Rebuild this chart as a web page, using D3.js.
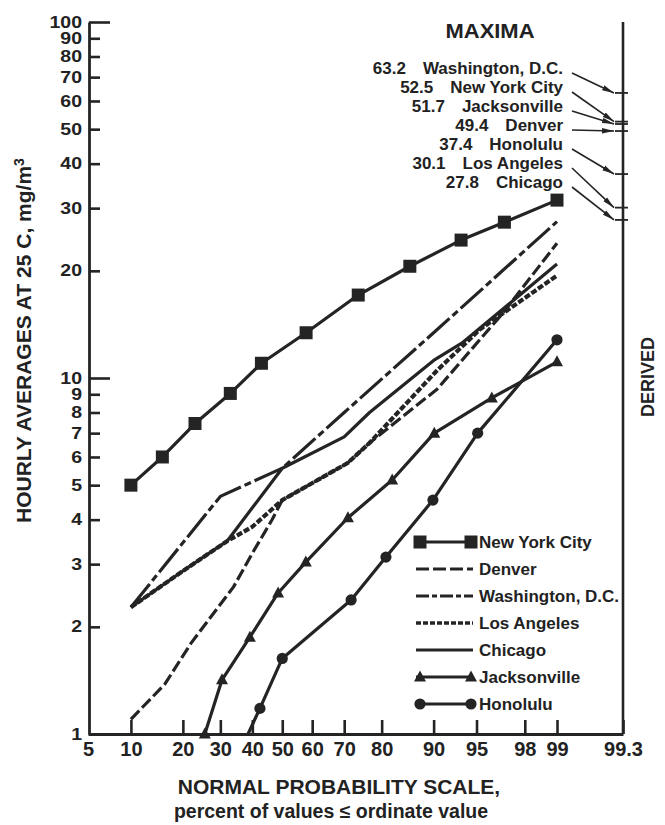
<!DOCTYPE html>
<html><head><meta charset="utf-8">
<script src="https://cdn.jsdelivr.net/npm/d3@7"></script>
<style>
body{margin:0;background:#fff}
svg{display:block}
text{font-family:"Liberation Sans",Arial,Helvetica,sans-serif;fill:#222;font-weight:bold}
</style>
</head><body>
<svg id="chart" width="665" height="825"></svg>
<script>
// ---------- data ----------
const yTickValues = [1,2,3,4,5,6,7,8,9,10,20,30,40,50,60,70,80,90,100];
const yMajorTicks = [1,10,100];
const xTickValues = [5,10,20,30,40,50,60,70,80,90,95,98,99,99.3];
const derivedPct = 99.3;

const nycPct = [10, 15.5, 23, 33, 43, 58, 74, 86, 93.5, 97, 99];
const nycVal = [5.0, 6.0, 7.45, 9.05, 11.0, 13.4, 17.1, 20.6, 24.4, 27.4, 31.6];

const denverPct = [10, 16, 22, 34, 40, 46.5, 50, 71, 77, 90.5, 96.9, 99];
const denverVal = [1.1, 1.38, 1.8, 2.59, 3.22, 3.99, 4.54, 5.77, 6.57, 9.3, 15.2, 23.9];

const washPct = [10, 30, 50, 70, 90, 95, 99];
const washVal = [2.27, 4.65, 5.58, 8.0, 13.4, 17.2, 27.5];

const laPct = [10, 20, 32, 40, 50, 71, 77, 90.5, 95.3, 99];
const laVal = [2.27, 2.87, 3.48, 3.82, 4.54, 5.77, 6.57, 10.5, 13.7, 19.4];

const chicagoPct = [10, 20, 32, 50, 70, 77, 90, 93.7, 99];
const chicagoVal = [2.27, 2.87, 3.48, 5.58, 6.83, 8.0, 11.2, 12.6, 20.9];

const jacksonPct = [25.6, 30.5, 39.2, 48.6, 57.9, 71.1, 82.4, 90.1, 96.2, 99];
const jacksonVal = [1.0, 1.42, 1.87, 2.49, 3.04, 4.05, 5.17, 7.0, 8.79, 11.1];

const honoluluPct = [38.6, 42.5, 50, 72, 81, 89.9, 95.1, 99];
const honoluluVal = [1.0, 1.18, 1.63, 2.38, 3.14, 4.54, 7.0, 12.8];

const legendNames = ["New York City","Denver","Washington, D.C.","Los Angeles","Chicago","Jacksonville","Honolulu"];

const maximaNames = ["Washington, D.C.","New York City","Jacksonville","Denver","Honolulu","Los Angeles","Chicago"];
const maximaValues = [63.2, 52.5, 51.7, 49.4, 37.4, 30.1, 27.8];

// ---------- helpers ----------
function probit(p){
  const a=[-3.969683028665376e+01,2.209460984245205e+02,-2.759285104469687e+02,1.383577518672690e+02,-3.066479806614716e+01,2.506628277459239e+00];
  const b=[-5.447609879822406e+01,1.615858368580409e+02,-1.556989798598866e+02,6.680131188771972e+01,-1.328068155288572e+01];
  const c=[-7.784894002430293e-03,-3.223964580411365e-01,-2.400758277161838e+00,-2.549671669062281e+00,4.374664141464968e+00,2.938163982698783e+00];
  const d=[7.784695709041462e-03,3.224671290700398e-01,2.445134137142996e+00,3.754408661907416e+00];
  const pl=0.02425, ph=1-pl; let q,r;
  if(p<pl){q=Math.sqrt(-2*Math.log(p));return (((((c[0]*q+c[1])*q+c[2])*q+c[3])*q+c[4])*q+c[5])/((((d[0]*q+d[1])*q+d[2])*q+d[3])*q+1);}
  if(p>ph){q=Math.sqrt(-2*Math.log(1-p));return -(((((c[0]*q+c[1])*q+c[2])*q+c[3])*q+c[4])*q+c[5])/((((d[0]*q+d[1])*q+d[2])*q+d[3])*q+1);}
  q=p-0.5;r=q*q;return (((((a[0]*r+a[1])*r+a[2])*r+a[3])*r+a[4])*r+a[5])*q/(((((b[0]*r+b[1])*r+b[2])*r+b[3])*r+b[4])*r+1);
}
const zip = (ps, vs) => ps.map((p,i)=>[p, vs[i]]);

// ---------- scales ----------
const zScale = d3.scaleLinear()
  .domain([probit(0.05), probit(0.99), probit(derivedPct/100)])
  .range([88, 557, 623]);
const x = p => zScale(probit(p/100));
const y = d3.scaleLog().domain([1,100]).range([734, 22]);

const INK = "#242424";
const svg = d3.select("#chart");

const defs = svg.append("defs");
defs.append("marker").attr("id","arrow").attr("viewBox","0 0 12 6")
  .attr("refX",12).attr("refY",3).attr("markerWidth",12).attr("markerHeight",6)
  .attr("markerUnits","userSpaceOnUse").attr("orient","auto")
  .append("path").attr("d","M0,0.3L12,3L0,5.7Z").attr("fill",INK);

// ---------- axes ----------
const yAxis = d3.axisLeft(y).tickValues(yTickValues).tickFormat(d3.format("d"))
  .tickSizeInner(-11).tickSizeOuter(0).tickPadding(7);
const gy = svg.append("g").attr("transform","translate(89,0)").call(yAxis);
gy.selectAll(".tick line").attr("x2", d => yMajorTicks.includes(d) ? 21 : 11);
gy.select(".tick:first-of-type line").remove();

const xAxis = d3.axisBottom(zScale)
  .tickValues(xTickValues.map(p=>probit(p/100)))
  .tickFormat((d,i)=>String(xTickValues[i]))
  .tickSizeInner(-14).tickSizeOuter(0).tickPadding(8);
const gx = svg.append("g").attr("transform","translate(0,734)").call(xAxis);
gx.select(".tick:first-of-type line").remove();

[gx, gy].forEach(g=>{
  g.select(".domain").attr("stroke",INK).attr("stroke-width",2.8);
  g.selectAll(".tick line").attr("stroke",INK).attr("stroke-width",2.6);
  g.selectAll(".tick text").attr("fill","#222")
    .style("font-family",'"Liberation Sans",Arial,sans-serif').style("font-weight","bold");
});
gx.selectAll(".tick text").style("font-size","20px").attr("dy","0.72em");
gy.selectAll(".tick text").style("font-size","16px")
  .attr("transform","scale(1.22,1)").attr("x", -7/1.22);

// derived (maxima) vertical line
const xd = x(derivedPct);
svg.append("line").attr("x1",xd).attr("x2",xd).attr("y1",y(100)).attr("y2",y(1))
  .attr("stroke",INK).attr("stroke-width",2.6);

// ---------- series ----------
const series = [
  {name:"New York City", data:zip(nycPct,nycVal), dash:null, w:3.2, marker:"square"},
  {name:"Denver", data:zip(denverPct,denverVal), dash:"12,4", w:3.2, marker:null},
  {name:"Washington, D.C.", data:zip(washPct,washVal), dash:"30,4,7,4", w:3.2, marker:null},
  {name:"Los Angeles", data:zip(laPct,laVal), dash:"6,2", w:4.2, marker:null},
  {name:"Chicago", data:zip(chicagoPct,chicagoVal), dash:null, w:3.2, marker:null},
  {name:"Jacksonville", data:zip(jacksonPct,jacksonVal), dash:null, w:3.2, marker:"triangle"},
  {name:"Honolulu", data:zip(honoluluPct,honoluluVal), dash:null, w:3.2, marker:"circle", skipFirst:true}
];

const line = d3.line().x(d=>x(d[0])).y(d=>y(d[1]));
const gLines = svg.append("g");
series.forEach(s=>{
  gLines.append("path").attr("d",line(s.data)).attr("fill","none")
    .attr("stroke",INK).attr("stroke-width",s.w)
    .attr("stroke-linejoin","round")
    .attr("stroke-dasharray",s.dash);
});

function drawMarker(g, type, cx, cy){
  if(type==="square"){
    g.append("rect").attr("x",cx-6.5).attr("y",cy-6.5).attr("width",13).attr("height",13).attr("fill",INK);
  } else if(type==="triangle"){
    g.append("path").attr("d",`M${cx},${cy-6.5}L${cx+6},${cy+4.5}L${cx-6},${cy+4.5}Z`).attr("fill",INK);
  } else if(type==="circle"){
    g.append("circle").attr("cx",cx).attr("cy",cy).attr("r",5.6).attr("fill",INK);
  }
}
const gMarks = svg.append("g");
series.forEach(s=>{
  if(!s.marker) return;
  s.data.forEach((d,i)=>{
    if(s.skipFirst && i===0) return;
    drawMarker(gMarks, s.marker, x(d[0]), y(d[1]));
  });
});

// ---------- legend ----------
const legX1 = 420, legX2 = 471, legText = 479, legY0 = 542, legStep = 27;
const legendDash = {"New York City":null,"Denver":"13,4","Washington, D.C.":"13,3,5,3","Los Angeles":"5,2","Chicago":null,"Jacksonville":null,"Honolulu":null};
legendNames.forEach((nm,i)=>{
  const s = series.find(t=>t.name===nm);
  const ly = legY0 + i*legStep;
  svg.append("line").attr("x1",legX1-4).attr("x2",legX2+2).attr("y1",ly).attr("y2",ly)
    .attr("stroke",INK).attr("stroke-width",nm==="Los Angeles"?3.4:3)
    .attr("stroke-dasharray",legendDash[nm]);
  if(s.marker){ drawMarker(svg, s.marker, legX1, ly); drawMarker(svg, s.marker, legX2, ly); }
  svg.append("text").attr("x",legText).attr("y",ly+6).style("font-size","17px").text(nm);
});

// ---------- maxima ----------
svg.append("text").attr("x",490).attr("y",38).attr("text-anchor","middle")
  .style("font-size","20px").attr("textLength",89).attr("lengthAdjust","spacingAndGlyphs").text("MAXIMA");
const maxRight = 563, maxY0 = 74, maxStep = 19;
maximaNames.forEach((nm,i)=>{
  const by = maxY0 + i*maxStep;
  const t = svg.append("text").attr("x",maxRight).attr("y",by).attr("text-anchor","end")
    .style("font-size","17px").text(nm);
  const w = t.node().getComputedTextLength();
  svg.append("text").attr("x",maxRight - w - 17).attr("y",by).attr("text-anchor","end")
    .style("font-size","17px").text(maximaValues[i].toFixed(1));
  const ty = y(maximaValues[i]);
  svg.append("line").attr("x1",maxRight+9).attr("y1",by-1).attr("x2",xd-9).attr("y2",ty)
    .attr("stroke",INK).attr("stroke-width",1.6).attr("marker-end","url(#arrow)");
  svg.append("line").attr("x1",xd-8).attr("x2",xd+5).attr("y1",ty).attr("y2",ty)
    .attr("stroke",INK).attr("stroke-width",1.8);
});

// ---------- titles ----------
const yt = svg.append("text").attr("transform","translate(31,523) rotate(-90)")
  .style("font-size","21px").attr("text-anchor","start");
yt.append("tspan").text("HOURLY AVERAGES AT 25 C, mg/m");
yt.append("tspan").attr("dy","-0.5em").style("font-size","14px").text("3");

svg.append("text").attr("transform","translate(654,377) rotate(-90)")
  .attr("text-anchor","middle").style("font-size","18px").text("DERIVED");

svg.append("text").attr("x",339).attr("y",794).attr("text-anchor","middle")
  .style("font-size","21px").text("NORMAL PROBABILITY SCALE,");
svg.append("text").attr("x",331).attr("y",818).attr("text-anchor","middle")
  .style("font-size","19.5px").text("percent of values \u2264 ordinate value");
</script>
</body></html>
